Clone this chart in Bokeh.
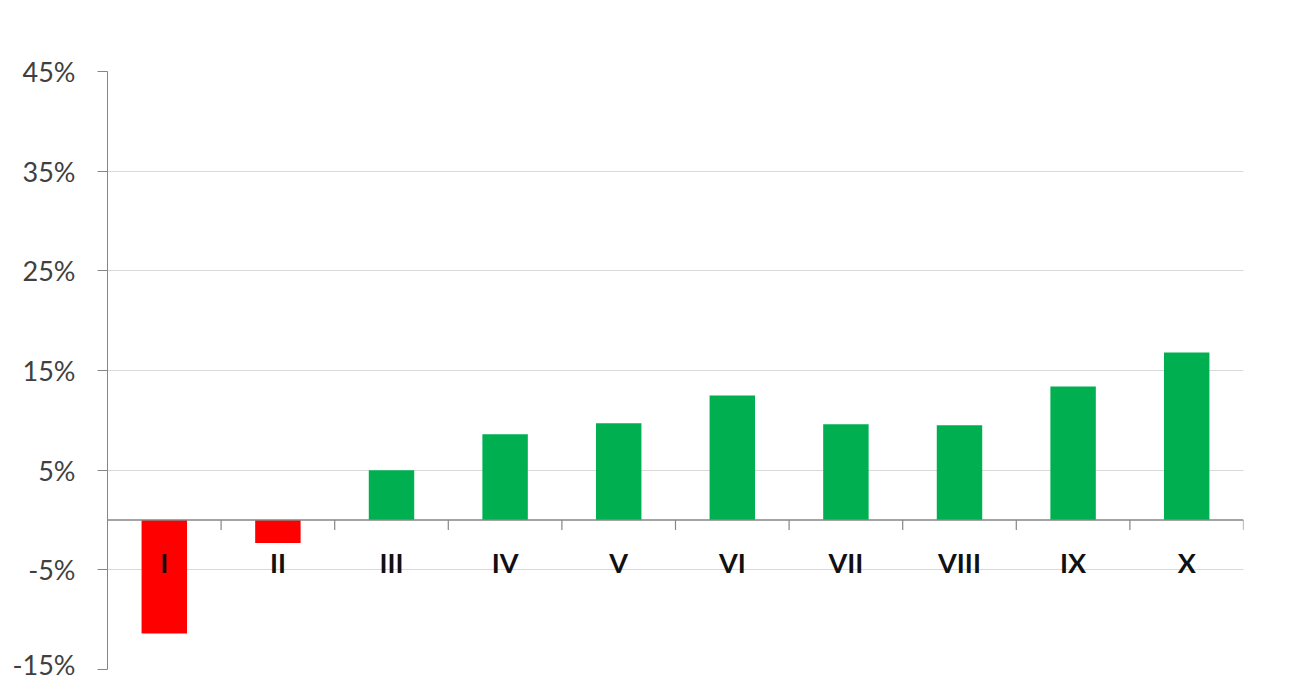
from bokeh.plotting import figure
from bokeh.models import Range1d, FixedTicker, PrintfTickFormatter, Span, ColumnDataSource
from bokeh.core.properties import value
from bokeh.embed import file_html
from bokeh.resources import INLINE

categories = ["I", "II", "III", "IV", "V", "VI", "VII", "VIII", "IX", "X"]
values = [-11.4, -2.3, 5.0, 8.6, 9.7, 12.5, 9.6, 9.5, 13.4, 16.8]
y_ticks = [-15, -5, 5, 15, 25, 35, 45]

n = len(categories)
centers = [i + 0.5 for i in range(n)]
colors = ["#FF0000" if v < 0 else "#00B050" for v in values]

src = ColumnDataSource(dict(x=centers, top=values, color=colors, label=categories))

p = figure(width=1300, height=680, output_backend="svg", toolbar_location=None,
           x_range=Range1d(0, n), y_range=Range1d(-15, 45),
           min_border_left=107, min_border_right=57, min_border_top=71, min_border_bottom=11)
p.outline_line_color = None
p.background_fill_color = "white"
p.border_fill_color = "white"

p.xaxis.visible = False
p.xgrid.visible = False

p.yaxis.ticker = FixedTicker(ticks=y_ticks)
p.yaxis.formatter = PrintfTickFormatter(format="%d%%")
p.yaxis.major_tick_in = 0
p.yaxis.major_tick_out = 10
p.yaxis.minor_tick_line_color = None
p.yaxis.axis_line_color = "#868686"
p.yaxis.major_tick_line_color = "#868686"
p.yaxis.major_label_text_font = "Lato"
p.yaxis.major_label_text_font_size = "27px"
p.yaxis.major_label_text_color = "#404040"
p.yaxis.major_label_standoff = 22

p.ygrid.ticker = FixedTicker(ticks=y_ticks)
p.ygrid.grid_line_color = "#d9d9d9"
p.ygrid.grid_line_width = 1

p.vbar(x="x", top="top", bottom=0, width=0.4, fill_color="color", line_color=None, source=src)

# zero axis line with boundary tick marks
p.add_layout(Span(location=0, dimension="width", line_color="#868686", line_width=1.5))
bounds = [i + 1 for i in range(n)]
p.segment(x0=bounds, y0=[0] * n, x1=bounds, y1=[-1.0] * n, line_color="#868686", line_width=1.2)

p.text(x="x", y=-4.3, text="label", source=src, text_font=value("Lato"),
       text_font_style="bold", text_font_size="27px", text_color="#111111",
       text_align="center", text_baseline="middle")

open("out.html", "w").write(file_html(p, INLINE))
